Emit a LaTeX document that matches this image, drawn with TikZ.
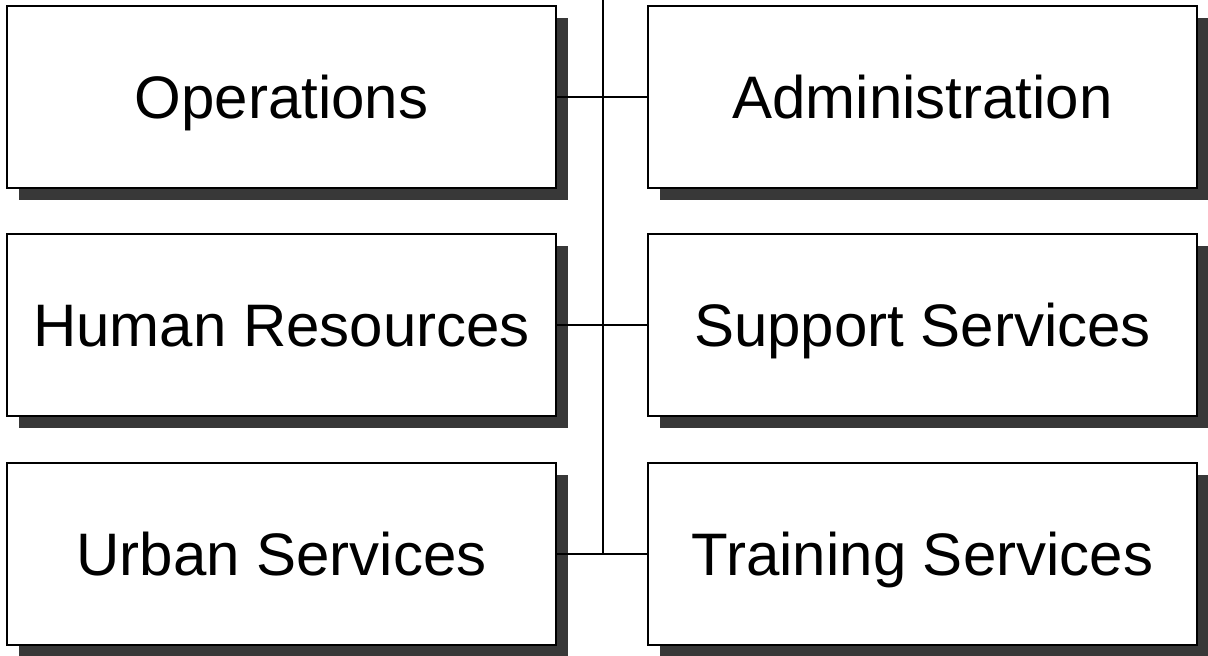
\documentclass[tikz,border=0pt]{standalone}
\usepackage{fontspec}
\setmainfont{Liberation Sans}
\tikzset{every picture/.style={line width=1.5pt}}
\tikzset{
	unit/.style={draw=black, fill=white, minimum width=411.75pt, minimum height=136.5pt, inner sep=0pt, text height=32.2pt, text depth=0pt, font=\fontsize{45}{54}\selectfont},
	shade/.style={fill=black!78, draw=none}
}

\begin{document}
\begin{tikzpicture}[x=0.75pt,y=0.75pt,yscale=-1,xscale=1]
	\useasboundingbox (0,0) rectangle (1208,656);

	%Shadows
	\foreach \cx/\cy in {281.5/97, 281.5/325, 281.5/554, 922.5/97, 922.5/325, 922.5/554}
		\fill[shade] (\cx-274.5+12,\cy-91+12) rectangle (\cx+274.5+12,\cy+91+12);

	% Left column
	\node[unit] (ops) at (281.5,97) {Operations};
	\node[unit] (hr) at (281.5,325) {Human Resources};
	\node[unit] (urb) at (281.5,554) {Urban Services};
	% Right column
	\node[unit] (adm) at (922.5,97) {Administration};
	\node[unit] (sup) at (922.5,325) {Support Services};
	\node[unit] (trn) at (922.5,554) {Training Services};

	% Trunk
	\coordinate (top) at (603,0);
	\coordinate (bot) at (603,554);
	\draw (top) -- (bot);
	% Branches
	\draw (ops.east) -- (adm.west);
	\draw (hr.east) -- (sup.west);
	\draw (urb.east) -- (trn.west);
\end{tikzpicture}
\end{document}
